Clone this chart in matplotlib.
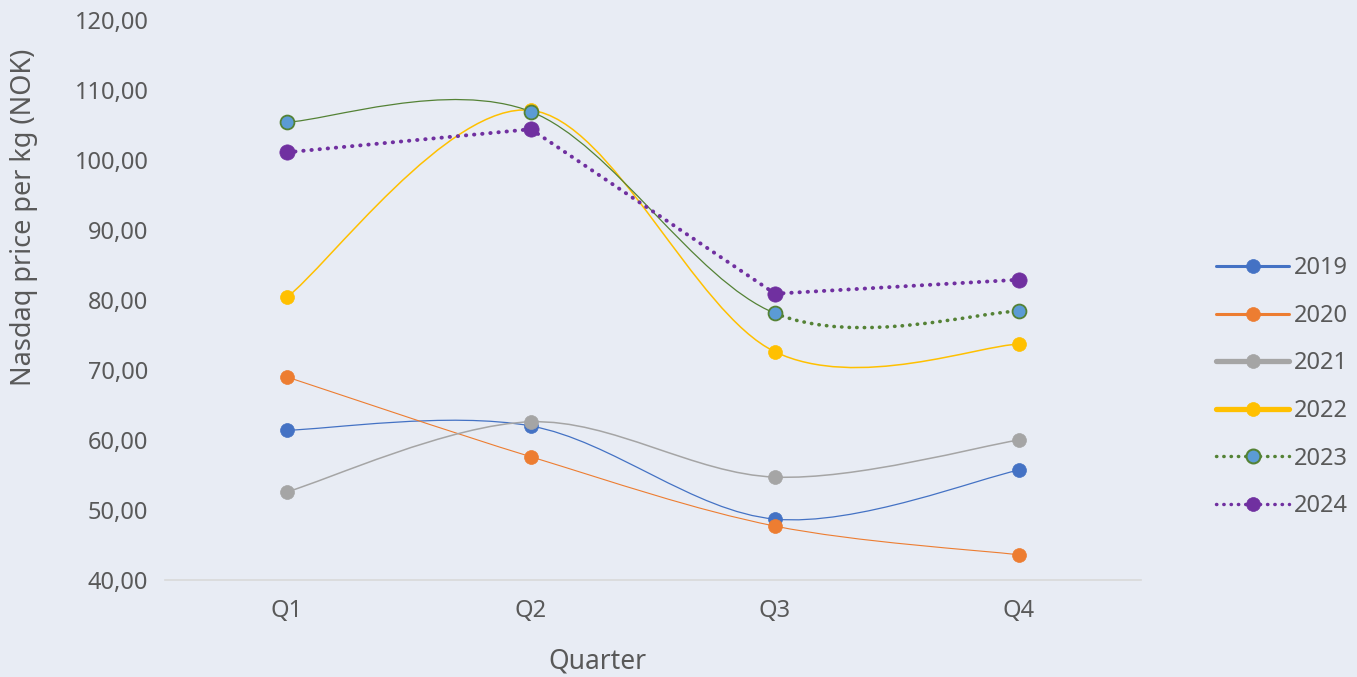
"""
Nasdaq salmon price per kg (NOK) by quarter, 2019-2024, Excel-style smoothed lines.
"""

import matplotlib

matplotlib.use("Agg")
import matplotlib.pyplot as plt
from matplotlib.lines import Line2D
from matplotlib.patches import PathPatch
from matplotlib.path import Path

plt.rcParams["font.family"] = ["Noto Sans", "DejaVu Sans"]

QUARTERS = ["Q1", "Q2", "Q3", "Q4"]
YEARS = ["2019", "2020", "2021", "2022", "2023", "2024"]

PRICE_2019 = [61.4, 62.0, 48.7, 55.7]
PRICE_2020 = [69.0, 57.6, 47.7, 43.6]
PRICE_2021 = [52.6, 62.6, 54.7, 60.0]
PRICE_2022 = [80.4, 107.1, 72.6, 73.7]
PRICE_2023 = [105.4, 106.9, 78.1, 78.4]
PRICE_2024 = [101.1, 104.4, 80.9, 82.9]

Y_TICKS = [40, 50, 60, 70, 80, 90, 100, 110, 120]

BG = "#E8ECF4"
TEXT = "#595959"
DOTS = (0, (0.1, 2.0))

# year -> values, line colour, marker face, marker edge, line width, marker size,
# smoothed?, style per segment (Q1-Q2, Q2-Q3, Q3-Q4)
STYLES = {
    "2019": (PRICE_2019, "#4472C4", "#4472C4", "#4472C4", 0.9, 10, True, ["-", "-", "-"]),
    "2020": (PRICE_2020, "#ED7D31", "#ED7D31", "#ED7D31", 0.8, 10, True, ["-", "-", "-"]),
    "2021": (PRICE_2021, "#A5A5A5", "#A5A5A5", "#A5A5A5", 1.1, 10, True, ["-", "-", "-"]),
    "2022": (PRICE_2022, "#FFC000", "#FFC000", "#FFC000", 1.1, 10, True, ["-", "-", "-"]),
    "2023": (PRICE_2023, "#548235", "#5B9BD5", "#548235", 0.9, 10, True, ["-", "-", "dot"]),
    "2024": (PRICE_2024, "#7030A0", "#7030A0", "#7030A0", 2.8, 11, False, ["dot", "dot", "dot"]),
}
LEGEND_LW = {"2019": 2.2, "2020": 2.2, "2021": 3.8, "2022": 3.8, "2023": 2.5, "2024": 2.5}


def segments(xs, ys, smooth):
    """Cubic Bezier segments (Excel-like Catmull-Rom) or straight ones."""
    n = len(xs)
    segs = []
    for i in range(n - 1):
        if not smooth:
            segs.append(([(xs[i], ys[i]), (xs[i + 1], ys[i + 1])], [Path.MOVETO, Path.LINETO]))
            continue
        i0 = max(i - 1, 0)
        i3 = min(i + 2, n - 1)
        c1 = (xs[i] + (xs[i + 1] - xs[i0]) / 6, ys[i] + (ys[i + 1] - ys[i0]) / 6)
        c2 = (xs[i + 1] - (xs[i3] - xs[i]) / 6, ys[i + 1] - (ys[i3] - ys[i]) / 6)
        segs.append(([(xs[i], ys[i]), c1, c2, (xs[i + 1], ys[i + 1])],
                     [Path.MOVETO, Path.CURVE4, Path.CURVE4, Path.CURVE4]))
    return segs


fig = plt.figure(figsize=(13.57, 6.77), dpi=100, facecolor=BG)
ax = fig.add_axes([165 / 1357, 97 / 677, 976 / 1357, 560 / 677], facecolor=BG)

x = list(range(len(QUARTERS)))
handles = []
for year in YEARS:
    vals, color, face, edge, lw, ms, smooth, seg_styles = STYLES[year]
    for (verts, codes), style in zip(segments(x, vals, smooth), seg_styles):
        dotted = style == "dot"
        patch = PathPatch(
            Path(verts, codes),
            fill=False,
            edgecolor=color,
            linewidth=2.6 if dotted and year == "2023" else lw,
            linestyle=DOTS if dotted else "-",
            capstyle="round",
            zorder=2,
        )
        ax.add_patch(patch)
    ax.plot(x, vals, linestyle="none", marker="o", markersize=ms,
            markerfacecolor=face, markeredgecolor=edge,
            markeredgewidth=1.3 if year == "2023" else 0.5, zorder=3)
    dotted_legend = "dot" in seg_styles
    handles.append(Line2D([0], [0], color=color, linewidth=LEGEND_LW[year],
                          linestyle=DOTS if dotted_legend else "-",
                          dash_capstyle="round", solid_capstyle="round",
                          marker="o", markersize=10, markerfacecolor=face,
                          markeredgecolor=edge,
                          markeredgewidth=1.5 if year == "2023" else 0.5))

ax.set_xlim(-0.5, len(QUARTERS) - 0.5)
ax.set_ylim(40, 120)
ax.set_xticks(x)
ax.set_xticklabels(QUARTERS)
ax.set_yticks(Y_TICKS)
ax.set_yticklabels([f"{v:.2f}".replace(".", ",") for v in Y_TICKS])
ax.tick_params(axis="both", length=0, labelsize=17, colors=TEXT)
ax.tick_params(axis="y", pad=12)
ax.tick_params(axis="x", pad=14)

for name, spine in ax.spines.items():
    spine.set_visible(name == "bottom")
ax.spines["bottom"].set_color("#D9D9D9")
ax.spines["bottom"].set_linewidth(1.2)

ax.set_xlabel("Quarter", fontsize=19, color=TEXT)
ax.set_ylabel("Nasdaq price per kg (NOK)", fontsize=19.5, color=TEXT)
ax.xaxis.set_label_coords(0.443, -0.12)
ax.yaxis.set_label_coords(-0.13, 0.648)

fig.legend(handles, YEARS, loc="upper left", bbox_to_anchor=(1195 / 1357, 1 - 235 / 677),
           frameon=False, fontsize=17, handlelength=3.1, handletextpad=0.2,
           labelspacing=1.0, labelcolor=TEXT)

fig.savefig("out.png", dpi=100, facecolor=BG)
